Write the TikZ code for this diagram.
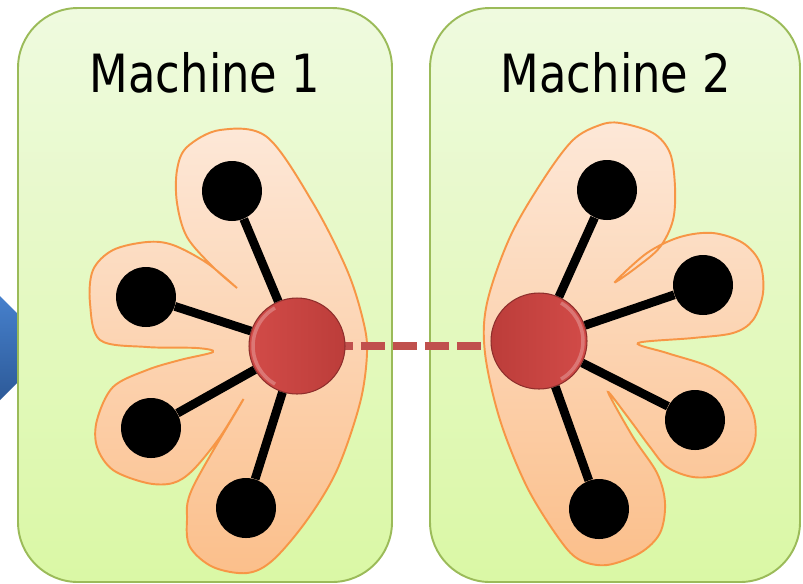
\documentclass[tikz,border=0pt]{standalone}
\usepackage{fontspec}
\setmainfont{DejaVu Sans}[FakeStretch=0.85]

\definecolor{boxtop}{HTML}{EFFADF}
\definecolor{boxbot}{HTML}{DAF8A5}
\definecolor{boxedge}{HTML}{9BBB59}
\definecolor{blobtop}{HTML}{FDE8D8}
\definecolor{blobbot}{HTML}{FBBF8B}
\definecolor{blobedge}{HTML}{F79646}
\definecolor{hublight}{HTML}{D24B48}
\definecolor{hubdark}{HTML}{BC3D3A}
\definecolor{hubedge}{HTML}{8E2E2C}
\definecolor{cutred}{HTML}{C0504D}
\definecolor{arrowtop}{HTML}{4680CC}
\definecolor{arrowbot}{HTML}{2D5A98}

\begin{document}
\begin{tikzpicture}[x=0.02cm, y=-0.02cm]

%-------------------------------------------------
% Styles
%-------------------------------------------------
\tikzset{
  machine/.style={draw=boxedge, line width=1.1pt, rounded corners=1.2cm,
    top color=boxtop, bottom color=boxbot},
  group/.style={draw=blobedge, line width=1.1pt,
    top color=blobtop, bottom color=blobbot},
  leaf/.style={circle, fill=black, minimum size=1.2cm, inner sep=0pt},
  hubL/.style={circle, draw=hubedge, line width=0.6pt, minimum size=1.92cm,
    inner sep=0pt, left color=hublight, right color=hubdark,
    path picture={\draw[white, opacity=0.25, line width=2pt]
      (path picture bounding box.center) ++(120:0.88cm) arc (120:240:0.88cm);}},
  hubR/.style={circle, draw=hubedge, line width=0.6pt, minimum size=1.92cm,
    inner sep=0pt, left color=hubdark, right color=hublight,
    path picture={\draw[white, opacity=0.25, line width=2pt]
      (path picture bounding box.center) ++(-60:0.88cm) arc (-60:60:0.88cm);}},
  link/.style={draw=black, line width=5pt},
  cut/.style={draw=cutred, line width=4.5pt, dash pattern=on 0.48cm off 0.16cm},
  title/.style={font=\fontsize{30}{36}\selectfont, anchor=base}
}

\useasboundingbox (0,0) rectangle (803,583);

% Blue arrow coming in from the left
\shade[top color=arrowtop, bottom color=arrowbot] (0,296) -- (52,348) -- (0,400) -- cycle;

%-------------------------------------------------
% Machines
%-------------------------------------------------
\path[machine] (18,8) rectangle (392,582);
\path[machine] (430,8) rectangle (800,582);

\node[title] (m1) at (205,92) {Machine 1};
\node[title] (m2) at (616,92) {Machine 2};

% hub centres
\coordinate (hL) at (297,346);
\coordinate (hR) at (539,341);

%-------------------------------------------------
% LEFT GROUP
%-------------------------------------------------
\path[group] plot[smooth cycle, tension=0.55] coordinates {
  (220,130) (267,137) (313,203) (347,270) (363,320) (367,353) (360,403)
  (337,470) (307,520) (273,560) (247,573) (213,567) (190,547) (187,520)
  (193,487) (243,400) (220,437) (193,470) (173,483) (147,483) (113,470)
  (97,447) (97,420) (113,387) (147,370) (180,360) (213,352) (197,348)
  (147,347) (100,340) (90,303) (93,270) (113,250) (147,242) (173,245)
  (207,263) (237,288) (213,267) (187,237) (177,203) (177,170) (187,147)
};

% cut between the two machines
\draw[cut] (hL) -- (hL -| hR);

%-------------------------------------------------
% RIGHT GROUP
%-------------------------------------------------
\path[group] plot[smooth cycle, tension=0.55] coordinates {
  (620,123) (653,133) (670,153) (675,187) (673,220) (660,247) (637,267)
  (615,282) (647,253) (680,237) (713,233) (743,243) (760,263) (763,293)
  (753,320) (733,333) (693,338) (638,343) (667,353) (710,367) (737,387)
  (753,413) (755,440) (743,463) (720,475) (693,477) (667,467) (650,447)
  (630,420) (608,392) (633,437) (657,473) (665,503) (660,533) (640,553)
  (607,565) (580,560) (560,540) (527,487) (500,420) (485,353) (487,303)
  (510,237) (543,180) (573,140) (600,125)
};

%-------------------------------------------------
% Vertices
%-------------------------------------------------
\node[leaf] (a1) at (232,191) {};
\node[leaf] (a2) at (146,297) {};
\node[leaf] (a3) at (151,428) {};
\node[leaf] (a4) at (246,508) {};
\node[hubL] (A) at (hL) {};

\node[leaf] (b1) at (607,190) {};
\node[leaf] (b2) at (703,285) {};
\node[leaf] (b3) at (695,420) {};
\node[leaf] (b4) at (599,509) {};
\node[hubR] (B) at (hR) {};

%-------------------------------------------------
% Edges
%-------------------------------------------------
\foreach \n in {a1,a2,a3,a4} {
  \draw[link] (A) -- (\n);
}
\foreach \n in {b1,b2,b3,b4} {
  \draw[link] (B) -- (\n);
}

\end{tikzpicture}
\end{document}
